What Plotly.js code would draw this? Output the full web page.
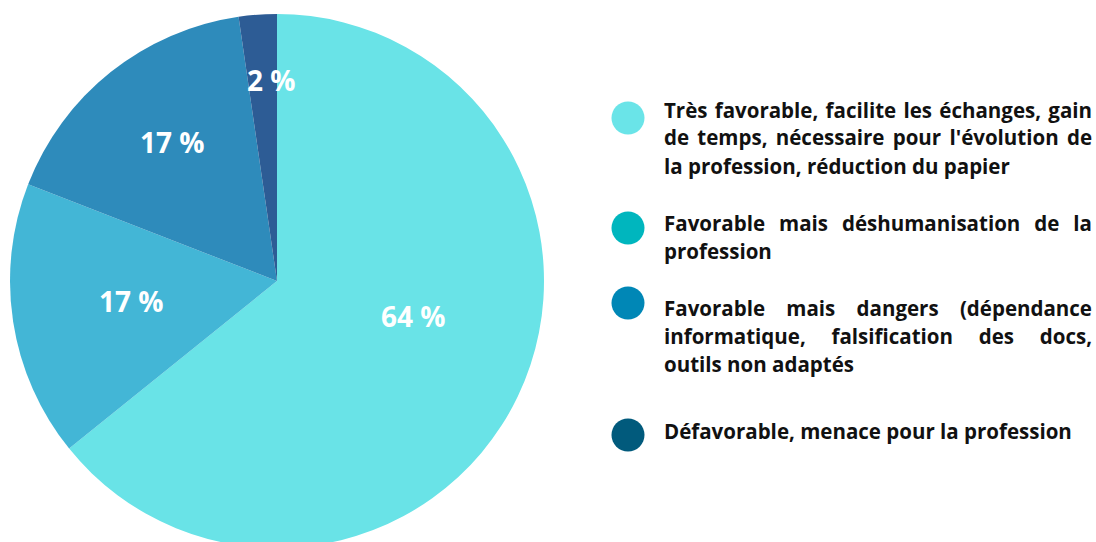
<!DOCTYPE html>
<html>
<head>
<meta charset="utf-8">
<script src="https://cdn.plot.ly/plotly-3.0.1.min.js"></script>
<style>
html,body{margin:0;padding:0;overflow:hidden;background:#fff;}
#chart{width:1096px;height:562px;}
</style>
</head>
<body>
<div id="chart"></div>
<script>
// ---- data ----
const categories = [
  "Très favorable, facilite les échanges, gain de temps, nécessaire pour l'évolution de la profession, réduction du papier",
  "Favorable mais déshumanisation de la profession",
  "Favorable mais dangers (dépendance informatique, falsification des docs, outils non adaptés",
  "Défavorable, menace pour la profession"
];
const values = [64.2, 16.7, 16.8, 2.3];
const valueLabels = ["64 %", "17 %", "17 %", "2 %"];
const legendLines = [
  ["Très favorable, facilite les échanges, gain", "de temps, nécessaire pour l'évolution de", "la profession, réduction du papier"],
  ["Favorable mais déshumanisation de la", "profession"],
  ["Favorable mais dangers (dépendance", "informatique, falsification des docs,", "outils non adaptés"],
  ["Défavorable, menace pour la profession"]
];
const pieColors = ["#69e3e7", "#43b6d6", "#2e8bbb", "#2d5c95"];
const legendColors = ["#6ae4e8", "#00b6be", "#0087b6", "#015a7c"];

// ---- layout helpers ----
const W = 1096, H = 562;
const px = x => x / W;
const py = y => 1 - y / H;

const cx = 277, cy = 281, R = 267;
const labelRadius = [0.53, 0.55, 0.64, 0.74];
const labelShift = [-10, 0, 1, 2.6];
const labelLift = 3;

const dotY = [118, 228, 303, 435];
const firstBaseline = [116.7, 230, 315, 437.7];
const lineGap = 28;
const textX = 662;
const rightEdge = 1092;
const fontSize = 20.5;

const shapes = [];
const annotations = [];
const justify = [];

// pie value labels, positioned from cumulative values
const total = values.reduce((a, b) => a + b, 0);
let cum = 0;
values.forEach((v, i) => {
  const mid = (cum + v / 2) / total * 360 + labelShift[i];
  cum += v;
  const a = mid * Math.PI / 180;
  const x = cx + Math.sin(a) * R * labelRadius[i];
  const y = cy - Math.cos(a) * R * labelRadius[i] - labelLift;
  annotations.push({
    xref: 'paper', yref: 'paper', x: px(x), y: py(y),
    xanchor: 'center', yanchor: 'middle', showarrow: false,
    text: valueLabels[i], font: {family: 'Open Sans', size: 28, color: '#ffffff', weight: 700}
  });
  justify.push(false);
});

legendColors.forEach((c, i) => {
  const r = 16.5;
  shapes.push({
    type: 'circle', xref: 'paper', yref: 'paper',
    x0: px(628 - r), x1: px(628 + r), y0: py(dotY[i] + r), y1: py(dotY[i] - r),
    fillcolor: c, line: {width: 0}
  });
  legendLines[i].forEach((t, j) => {
    const base = firstBaseline[i] + j * lineGap;
    annotations.push({
      xref: 'paper', yref: 'paper', x: px(textX), y: py(base - 7.2),
      xanchor: 'left', yanchor: 'middle', showarrow: false, align: 'left',
      text: t, font: {family: 'Open Sans', size: fontSize, color: '#111111', weight: 700}
    });
    justify.push(j < legendLines[i].length - 1);
  });
});

const trace = {
  type: 'pie',
  labels: categories,
  values: values,
  sort: false,
  direction: 'clockwise',
  rotation: 0,
  marker: {colors: pieColors, line: {width: 0}},
  textinfo: 'none',
  hoverinfo: 'skip',
  showlegend: false,
  domain: {x: [px(cx - R), px(cx + R)], y: [py(cy + R), py(cy - R)]}
};

const layout = {
  width: W, height: H,
  margin: {l: 0, r: 0, t: 0, b: 0},
  paper_bgcolor: '#ffffff',
  plot_bgcolor: '#ffffff',
  showlegend: false,
  shapes: shapes,
  annotations: annotations
};

Plotly.newPlot('chart', [trace], layout, {displayModeBar: false, staticPlot: true}).then(gd => {
  gd.querySelectorAll('.annotation').forEach(g => {
    const idx = +g.getAttribute('data-index');
    if (!justify[idx]) return;
    const txt = g.querySelector('text.annotation-text');
    if (!txt) return;
    const content = txt.textContent;
    const spaces = (content.match(/ /g) || []).length;
    if (!spaces) return;
    const bb = txt.getBBox();
    const ctm = txt.getCTM();
    const left = ctm.e + bb.x;
    const width = bb.width;
    const extra = (rightEdge - left - width) / spaces;
    if (extra > 0) txt.setAttribute('word-spacing', extra.toFixed(2));
  });
});
</script>
</body>
</html>
